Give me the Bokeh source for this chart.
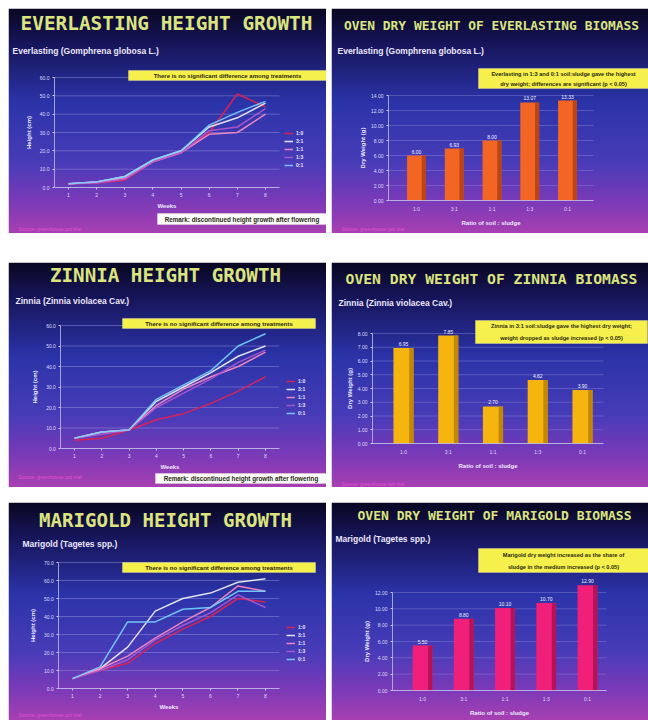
import numpy as np
from bokeh.plotting import figure
from bokeh.models import (Range1d, LinearAxis, FixedTicker, Label, BoxAnnotation,
                          Legend, LegendItem, Spacer, NumeralTickFormatter)
from bokeh.layouts import column, row
from bokeh.embed import file_html
from bokeh.resources import INLINE
from bokeh.core.properties import value

# ---------------- data ----------------
weeks = [1, 2, 3, 4, 5, 6, 7, 8]
ratios = ["1:0", "3:1", "1:1", "1:3", "0:1"]   # soil : sludge

# plant height (cm) per week, one list per soil:sludge ratio
ever_1_0 = [2, 2.5, 4, 14, 19, 30, 51, 44]
ever_3_1 = [2, 3, 6, 15, 20, 33, 38, 46]
ever_1_1 = [2, 3, 5, 14, 19, 29, 30, 40]
ever_1_3 = [2, 2.5, 4.5, 14, 19, 31, 33, 43]
ever_0_1 = [2, 3, 6, 15, 20, 34, 41, 47]

zin_1_0 = [4, 5, 9, 14, 17, 22, 28, 35]
zin_3_1 = [5, 8, 9, 23, 30, 37, 45, 50]
zin_1_1 = [5, 8, 9, 21, 29, 35, 40, 47]
zin_1_3 = [5, 7, 9, 20, 27, 34, 42, 48]
zin_0_1 = [5, 8, 9, 24, 31, 38, 50, 56]

mari_1_0 = [5.5, 10, 14, 25, 33, 40, 50, 48]
mari_3_1 = [5.5, 11, 23, 43, 50, 53, 59, 61]
mari_1_1 = [5.5, 11, 18, 28, 37, 45, 57, 54]
mari_1_3 = [5.5, 10, 16, 27, 35, 42, 52, 45]
mari_0_1 = [5.5, 12, 37, 37, 44, 45, 54, 54]

# oven dry weight of biomass (g) per ratio
ever_dry = [6.00, 6.93, 8.00, 13.07, 13.33]
zin_dry = [6.95, 7.85, 2.70, 4.62, 3.90]
mari_dry = [5.50, 8.80, 10.10, 10.70, 12.90]

# axis ticks
ever_h_ticks = [0, 10, 20, 30, 40, 50, 60]
zin_h_ticks = [0, 10, 20, 30, 40, 50, 60]
mari_h_ticks = [0, 10, 20, 30, 40, 50, 60, 70]
ever_w_ticks = [0, 2, 4, 6, 8, 10, 12, 14]
zin_w_ticks = [0, 1, 2, 3, 4, 5, 6, 7, 8]
mari_w_ticks = [0, 2, 4, 6, 8, 10, 12]

# ---------------- styling ----------------
LINE_COLORS = ["#e8204a", "#f4f4f4", "#ff8cc0", "#b458d0", "#78d4ff"]
TITLE_COLOR = "#dbe47e"
SUB_COLOR = "#ebe6fa"
AXIS_COLOR = "#c8c8f0"
BOX_YELLOW = "#f6f04c"
MONO = "DejaVu Sans Mono"
SANS = "Liberation Sans"

BG_STOPS = [0.0, 0.14, 0.42, 0.68, 0.86, 1.0]
BG_R = [10, 22, 44, 72, 124, 168]
BG_G = [8, 20, 52, 60, 58, 64]
BG_B = [34, 86, 170, 184, 184, 178]


def gradient(h):
    t = np.linspace(0, 1, h)
    chans = [np.interp(t, BG_STOPS, c) for c in (BG_R, BG_G, BG_B)]
    img = np.zeros((h, 2), dtype=np.uint32)
    view = img.view(dtype=np.uint8).reshape((h, 2, 4))
    for k in range(3):
        view[:, :, k] = chans[k][::-1, None].astype(np.uint8)  # row 0 = bottom
    view[:, :, 3] = 255
    return img


def make_slide(w, h, xa, xb, ya, yb):
    """Slide-sized figure; xa/xb and ya/yb pin pixel offsets to data values."""
    sx = (xb[1] - xa[1]) / (xb[0] - xa[0])
    sy = (yb[1] - ya[1]) / (yb[0] - ya[0])
    x_left = xa[1] - xa[0] * sx
    y_top = ya[1] - ya[0] * sy
    x_right = x_left + w * sx
    y_bottom = y_top + h * sy
    p = figure(width=w, height=h, x_range=Range1d(x_left, x_right),
               y_range=Range1d(y_bottom, y_top), x_axis_type=None, y_axis_type=None,
               toolbar_location=None, output_backend="svg", min_border=0)
    p.outline_line_color = None
    p.border_fill_color = "white"
    p.image_rgba(image=[gradient(h)], x=x_left, y=y_bottom,
                 dw=x_right - x_left, dh=y_top - y_bottom)
    px = lambda lx: x_left + lx * sx
    py = lambda ly: y_top + ly * sy
    return p, px, py


def text(p, x, y, s, size, color, font=SANS, style="bold", align="left"):
    p.add_layout(Label(x=x, y=y, text=s, text_font=font, text_font_size=f"{size}px",
                       text_color=color, text_font_style=style, text_align=align,
                       text_baseline="middle"))


def box(p, px, py, l, r, t, b, fill, lines, size):
    p.add_layout(BoxAnnotation(left=px(l), right=px(r), top=py(t), bottom=py(b),
                               fill_color=fill, fill_alpha=1, line_color="#fffbd0",
                               line_width=1))
    n = len(lines)
    for i, s in enumerate(lines):
        ly = t + (b - t) * (i + 0.5) / n
        text(p, px((l + r) / 2), py(ly), s, size, "#2a2a10", align="center")


def style_axis(ax, fmt):
    ax.axis_line_color = AXIS_COLOR
    ax.axis_line_alpha = 0.75
    ax.major_tick_line_color = AXIS_COLOR
    ax.major_tick_out = 2
    ax.major_tick_in = 0
    ax.minor_tick_line_color = None
    ax.major_label_text_font_size = "5px"
    ax.major_label_text_color = "#dcdcf8"
    ax.major_label_standoff = 3
    ax.axis_label_text_font_size = "6px"
    ax.axis_label_text_color = "#ececff"
    ax.axis_label_text_font_style = "bold"
    ax.axis_label_standoff = 5
    if fmt:
        ax.formatter = NumeralTickFormatter(format=fmt)


def header(p, px, py, title, tsize, tx, ty, sub, sx_, sy_, footer_y):
    text(p, px(tx), py(ty), title, tsize, TITLE_COLOR, font=MONO, align="center")
    text(p, px(sx_), py(sy_), sub, 8.5, SUB_COLOR)
    if footer_y is not None:
        text(p, px(10), py(footer_y), "Source: greenhouse pot trial", 5, "#e050d0",
             style="normal")


def line_slide(w, h, xa, xb, ya, yb, ticks, series, title, tsize, tpos, sub, spos,
               note, leg_pos, remark, footer_y):
    p, px, py = make_slide(w, h, xa, xb, ya, yb)
    header(p, px, py, title, tsize, tpos[0], tpos[1], sub, spos[0], spos[1], footer_y)
    # horizontal grid at each height tick
    p.segment(x0=[0.5] * len(ticks), x1=[8.5] * len(ticks), y0=ticks, y1=ticks,
              line_color="#9a9ae0", line_alpha=0.45, line_width=1)
    yax = LinearAxis(fixed_location=0.5, bounds=(ticks[0], ticks[-1]),
                     ticker=FixedTicker(ticks=ticks), axis_label="Height (cm)")
    style_axis(yax, "0.0")
    p.add_layout(yax, "left")
    xax = LinearAxis(fixed_location=0, bounds=(0.5, 8.5), ticker=FixedTicker(ticks=weeks),
                     axis_label="Weeks")
    style_axis(xax, None)
    xax.axis_label_standoff = 3
    p.add_layout(xax, "below")
    items = []
    for vals, col, lab in zip(series, LINE_COLORS, ratios):
        r = p.line(weeks, vals, line_color=col, line_width=1.5, line_alpha=0.9)
        items.append(LegendItem(label=lab, renderers=[r]))
    leg = Legend(items=items, location=(leg_pos[0], h - leg_pos[1]),
                 label_text_font_size="5px", label_text_color="#e8e8ff",
                 label_text_font_style="bold", glyph_width=9, glyph_height=6,
                 label_height=6, label_standoff=3, spacing=2, padding=0, margin=0,
                 background_fill_alpha=0, border_line_alpha=0)
    p.add_layout(leg)
    l, r_, t, b = note
    box(p, px, py, l, r_, t, b, BOX_YELLOW,
        ["There is no significant difference among treatments"], 6)
    if remark is not None:
        l, r_, t, b = remark
        box(p, px, py, l, r_, t, b, "#fbfbfb",
            ["Remark: discontinued height growth after flowering"], 6.3)
    return p


def bar_slide(w, h, xa, xb, ya, yb, ticks, vals, color, shade, bw, ax_l, ax_r,
              title, tsize, tpos, sub, spos, note, note_lines, footer_y):
    p, px, py = make_slide(w, h, xa, xb, ya, yb)
    header(p, px, py, title, tsize, tpos[0], tpos[1], sub, spos[0], spos[1], footer_y)
    pos = list(range(1, len(ratios) + 1))
    left, right = px(ax_l), px(ax_r)
    p.segment(x0=[left] * len(ticks), x1=[right] * len(ticks), y0=ticks, y1=ticks,
              line_color="#9a9ae0", line_alpha=0.35, line_width=1)
    yax = LinearAxis(fixed_location=left, bounds=(ticks[0], ticks[-1]),
                     ticker=FixedTicker(ticks=ticks), axis_label="Dry Weight (g)")
    style_axis(yax, "0.00")
    yax.axis_label_standoff = 2
    p.add_layout(yax, "left")
    xax = LinearAxis(fixed_location=0, bounds=(left, right), ticker=FixedTicker(ticks=pos),
                     axis_label="Ratio of soil : sludge",
                     major_label_overrides={k: lab for k, lab in zip(pos, ratios)})
    style_axis(xax, None)
    xax.major_tick_line_color = None
    p.add_layout(xax, "below")
    p.vbar(x=pos, top=vals, width=bw, bottom=0, fill_color=color, line_color=None)
    # darker right-hand face gives the bars their depth
    side = bw * 0.22
    p.vbar(x=[q + bw / 2 - side / 2 for q in pos], top=vals, width=side, bottom=0,
           fill_color=shade, fill_alpha=0.75, line_color=None)
    p.text(x=pos, y=vals, text=[f"{v:.2f}" for v in vals], text_font=value(SANS),
           text_font_size="5px", text_color="#f0f0ff", text_align="center",
           text_baseline="bottom", y_offset=-2)
    l, r_, t, b = note
    box(p, px, py, l, r_, t, b, BOX_YELLOW, note_lines, 5.6)
    return p


p1 = line_slide(318, 225, (60, 1), (257, 8), (179, 0), (69, 60), ever_h_ticks,
                [ever_1_0, ever_3_1, ever_1_1, ever_1_3, ever_0_1],
                "EVERLASTING HEIGHT GROWTH", 19.4, (158, 15),
                "Everlasting (Gomphrena globosa L.)", (4, 42),
                (120, 318, 62, 72), (276, 160), (149, 318, 205, 216), 220)

p2 = bar_slide(317, 225, (85, 1), (236, 5), (192, 0), (87, 14), ever_w_ticks, ever_dry,
               "#f26522", "#a83a10", 0.5, 57, 262,
               "OVEN DRY WEIGHT OF EVERLASTING BIOMASS", 12.9, (160, 17),
               "Everlasting (Gomphrena globosa L.)", (6, 42),
               (147, 317, 60, 80),
               ["Everlasting in 1:3 and 0:1 soil:sludge gave the highest",
                "dry weight; differences are significant (p < 0.05)"], 220)

p3 = line_slide(318, 225, (66, 1), (257, 8), (186, 0), (63, 60), zin_h_ticks,
                [zin_1_0, zin_3_1, zin_1_1, zin_1_3, zin_0_1],
                "ZINNIA HEIGHT GROWTH", 19.2, (157, 13),
                "Zinnia (Zinnia violacea Cav.)", (7, 38),
                (114, 307, 56, 66), (278, 154), (147, 318, 211, 221), 214)

p4 = bar_slide(317, 225, (72, 1), (251, 5), (181, 0), (71, 8), zin_w_ticks, zin_dry,
               "#f5b40e", "#b07a00", 0.45, 41, 272,
               "OVEN DRY WEIGHT OF ZINNIA BIOMASS", 14.7, (160, 16),
               "Zinnia (Zinnia violacea Cav.)", (7, 40),
               (144, 316, 58, 81),
               ["Zinnia in 3:1 soil:sludge gave the highest dry weight;",
                "weight dropped as sludge increased (p < 0.05)"], 221)

p5 = line_slide(318, 218, (64, 1), (257, 8), (186, 0), (60, 70), mari_h_ticks,
                [mari_1_0, mari_3_1, mari_1_1, mari_1_3, mari_0_1],
                "MARIGOLD HEIGHT GROWTH", 19.1, (157, 18),
                "Marigold (Tagetes spp.)", (14, 41),
                (114, 307, 60, 70), (278, 160), None, 212)

p6 = bar_slide(317, 218, (91, 1), (256, 5), (188, 0), (90, 12), mari_w_ticks, mari_dry,
               "#f0207a", "#a0104c", 0.48, 61, 275,
               "OVEN DRY WEIGHT OF MARIGOLD BIOMASS", 13.0, (163, 13),
               "Marigold (Tagetes spp.)", (4, 36),
               (147, 317, 46, 70),
               ["Marigold dry weight increased as the share of",
                "sludge in the medium increased (p < 0.05)"], None)

layout = column(
    Spacer(height=8),
    row(Spacer(width=8), p1, Spacer(width=5), p2),
    Spacer(height=29),
    row(Spacer(width=8), p3, Spacer(width=5), p4),
    Spacer(height=15),
    row(Spacer(width=8), p5, Spacer(width=5), p6),
)

open("out.html", "w").write(file_html(layout, INLINE))
